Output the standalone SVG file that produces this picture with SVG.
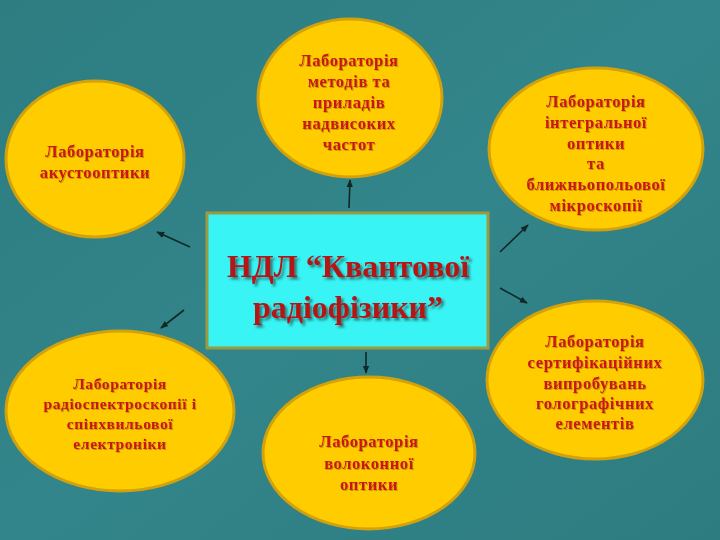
<svg xmlns="http://www.w3.org/2000/svg" width="720" height="540" viewBox="0 0 720 540">
<defs>
<linearGradient id="bg" x1="0" y1="0" x2="1" y2="1">
<stop offset="0" stop-color="#2D7D81"/>
<stop offset="0.5" stop-color="#32858A"/>
<stop offset="1" stop-color="#2D7C80"/>
</linearGradient>
<filter id="sh" x="-10%" y="-20%" width="130%" height="150%">
<feDropShadow dx="1" dy="1" stdDeviation="0.4" flood-color="#5a3a10" flood-opacity="0.35"/>
</filter>
<filter id="sh2" x="-10%" y="-20%" width="130%" height="150%">
<feDropShadow dx="2.5" dy="2.5" stdDeviation="0.8" flood-color="#1a3030" flood-opacity="0.6"/>
</filter>
<marker id="ah" viewBox="0 0 10 10" refX="9" refY="5" markerWidth="5" markerHeight="5" orient="auto">
<path d="M0,1 L10,5 L0,9 Z" fill="#102828"/>
</marker>
<style>
.lab{fill:#FFCC00;stroke:#D2A20C;stroke-width:3}
.t{font-family:"Liberation Serif","Times New Roman",serif;font-weight:bold;fill:#CC1418;text-anchor:middle;font-size:16.5px;letter-spacing:0.6px;filter:url(#sh)}
.s{font-size:15.5px}
.title{font-family:"Liberation Serif","Times New Roman",serif;font-weight:bold;fill:#B41418;text-anchor:middle;font-size:32px;filter:url(#sh2)}
.c{stroke:#102828;stroke-width:1.6;fill:none;marker-end:url(#ah)}
</style>
</defs>
<rect width="720" height="540" fill="url(#bg)"/>
<g id="connectors">
<line class="c" x1="190" y1="247" x2="157" y2="232"/>
<line class="c" x1="349" y1="208" x2="350" y2="180"/>
<line class="c" x1="500" y1="252" x2="528" y2="225"/>
<line class="c" x1="500" y1="288" x2="527" y2="303"/>
<line class="c" x1="366" y1="352" x2="366" y2="373"/>
<line class="c" x1="184" y1="310" x2="161" y2="328"/>
</g>
<g id="center">
<rect x="207" y="213" width="281" height="135" fill="#38F4F4" stroke="#9C9A40" stroke-width="3"/>
<text class="title" x="348" y="277">НДЛ “Квантової</text>
<text class="title" x="348" y="318">радіофізики”</text>
</g>
<g id="lab-acousto">
<ellipse class="lab" cx="95" cy="159" rx="89" ry="78"/>
<text class="t" x="95" y="157">Лабораторія</text>
<text class="t" x="95" y="178">акустооптики</text>
</g>
<g id="lab-hf">
<ellipse class="lab" cx="350" cy="98" rx="92" ry="79"/>
<text class="t" x="349" y="66">Лабораторія</text>
<text class="t" x="349" y="87">методів та</text>
<text class="t" x="349" y="108">приладів</text>
<text class="t" x="349" y="129">надвисоких</text>
<text class="t" x="349" y="150">частот</text>
</g>
<g id="lab-integral">
<ellipse class="lab" cx="596" cy="149" rx="107" ry="81"/>
<text class="t" x="596" y="107">Лабораторія</text>
<text class="t" x="596" y="128">інтегральної</text>
<text class="t" x="596" y="149">оптики</text>
<text class="t" x="596" y="169">та</text>
<text class="t" x="596" y="190">ближньопольової</text>
<text class="t" x="596" y="211">мікроскопії</text>
</g>
<g id="lab-cert">
<ellipse class="lab" cx="595" cy="380" rx="108" ry="79"/>
<text class="t" x="595" y="347">Лабораторія</text>
<text class="t" x="595" y="368">сертифікаційних</text>
<text class="t" x="595" y="389">випробувань</text>
<text class="t" x="595" y="409">голографічних</text>
<text class="t" x="595" y="429">елементів</text>
</g>
<g id="lab-fiber">
<ellipse class="lab" cx="369" cy="453" rx="106" ry="76"/>
<text class="t" x="369" y="447">Лабораторія</text>
<text class="t" x="369" y="469">волоконної</text>
<text class="t" x="369" y="490">оптики</text>
</g>
<g id="lab-radio">
<ellipse class="lab" cx="120" cy="411" rx="114" ry="80"/>
<text class="t s" x="120" y="389">Лабораторія</text>
<text class="t s" x="120" y="409">радіоспектроскопії і</text>
<text class="t s" x="120" y="429">спінхвильової</text>
<text class="t s" x="120" y="449">електроніки</text>
</g>
</svg>
